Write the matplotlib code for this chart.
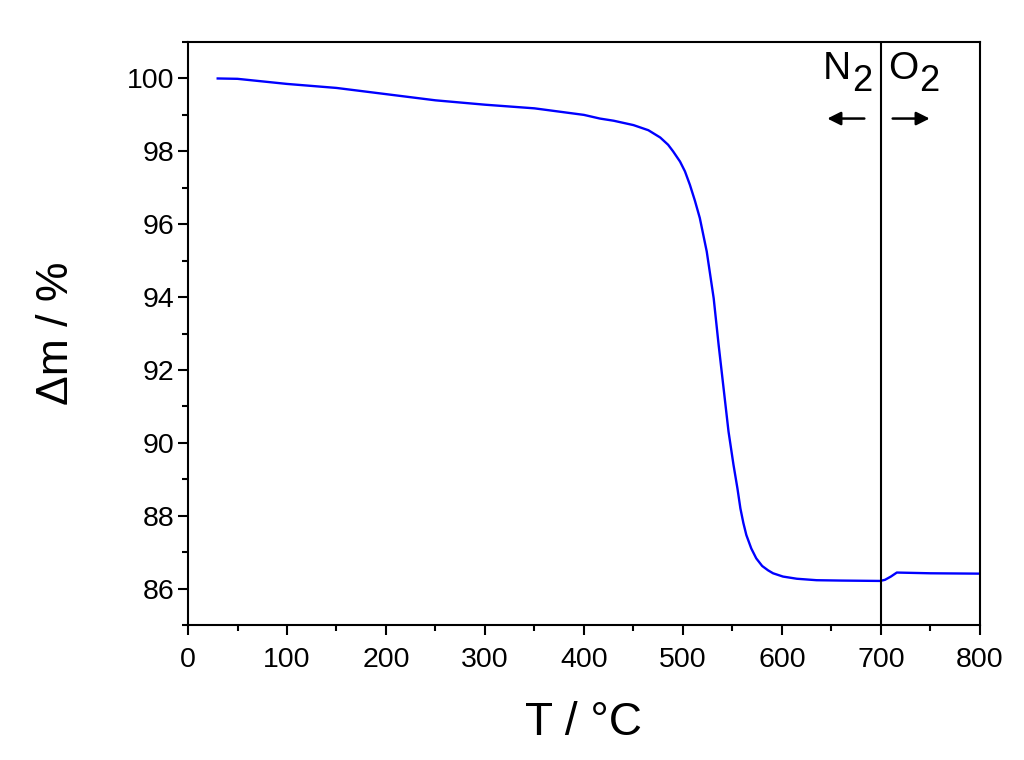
import matplotlib
matplotlib.use('Agg')
import matplotlib.pyplot as plt
from matplotlib.ticker import MultipleLocator

# Kurva TGA: suhu (°C) dan perubahan massa (%)
suhu = [30, 50, 100, 150, 200, 250, 300, 350, 400, 416, 430, 450, 465, 477,
        485, 490, 497, 502, 507, 512, 517, 524, 531, 536, 541, 546, 551, 555,
        558, 561, 564, 569, 574, 580, 586, 591, 601, 615, 635, 660, 699, 704,
        710, 716, 750, 800]
massa = [100.0, 99.99, 99.85, 99.74, 99.57, 99.4, 99.28, 99.18, 99.0, 98.9,
         98.84, 98.72, 98.58, 98.38, 98.18, 98.0, 97.72, 97.45, 97.08, 96.65,
         96.17, 95.25, 93.97, 92.69, 91.5, 90.31, 89.4, 88.75, 88.2, 87.8,
         87.47, 87.1, 86.83, 86.62, 86.5, 86.42, 86.33, 86.27, 86.23, 86.22,
         86.21, 86.24, 86.33, 86.44, 86.42, 86.41]

batas_gas = 700
label_gas = [('N', '2'), ('O', '2')]

plt.rcParams['font.family'] = ['Liberation Sans', 'DejaVu Sans']

fig = plt.figure(figsize=(10.24, 7.6), dpi=100)
ax = fig.add_axes([0.1836, 0.1776, 0.7734, 0.7671])

ax.plot(suhu, massa, color='#0000ff', linewidth=1.7)
ax.axvline(batas_gas, color='black', linewidth=1.5)

ax.set_xlim(0, 800)
ax.set_ylim(85, 101)
ax.xaxis.set_major_locator(MultipleLocator(100))
ax.xaxis.set_minor_locator(MultipleLocator(50))
ax.yaxis.set_major_locator(MultipleLocator(2))
ax.yaxis.set_minor_locator(MultipleLocator(1))
ax.tick_params(which='both', direction='out', top=False, right=False, width=1.5,
               labelsize=20.5)
ax.tick_params(which='major', length=7)
ax.tick_params(axis='x', which='major', pad=9)
ax.tick_params(axis='y', which='major', pad=3)
ax.tick_params(which='minor', length=4)
for s in ax.spines.values():
    s.set_linewidth(1.5)

ax.set_xlabel('T / °C', fontsize=33, labelpad=20)
ax.set_ylabel('Δm / %', fontsize=32, labelpad=36)

# Label gas (huruf + subskrip) dan panah
for xpos, (huruf, sub) in zip([669.7, 737.4], label_gas):
    ax.text(xpos, 100.27, huruf, fontsize=28, ha='right', va='center')
    ax.annotate(sub, xy=(xpos, 100.27), xytext=(1, -9.5), textcoords='offset points',
                fontsize=26, ha='left', va='center')

ax.annotate('', xy=(643, 98.9), xytext=(686, 98.9),
            arrowprops=dict(arrowstyle='-|>', color='black', lw=1.8, mutation_scale=20))
ax.annotate('', xy=(752, 98.9), xytext=(709, 98.9),
            arrowprops=dict(arrowstyle='-|>', color='black', lw=1.8, mutation_scale=20))

fig.savefig('out.png', dpi=100)
